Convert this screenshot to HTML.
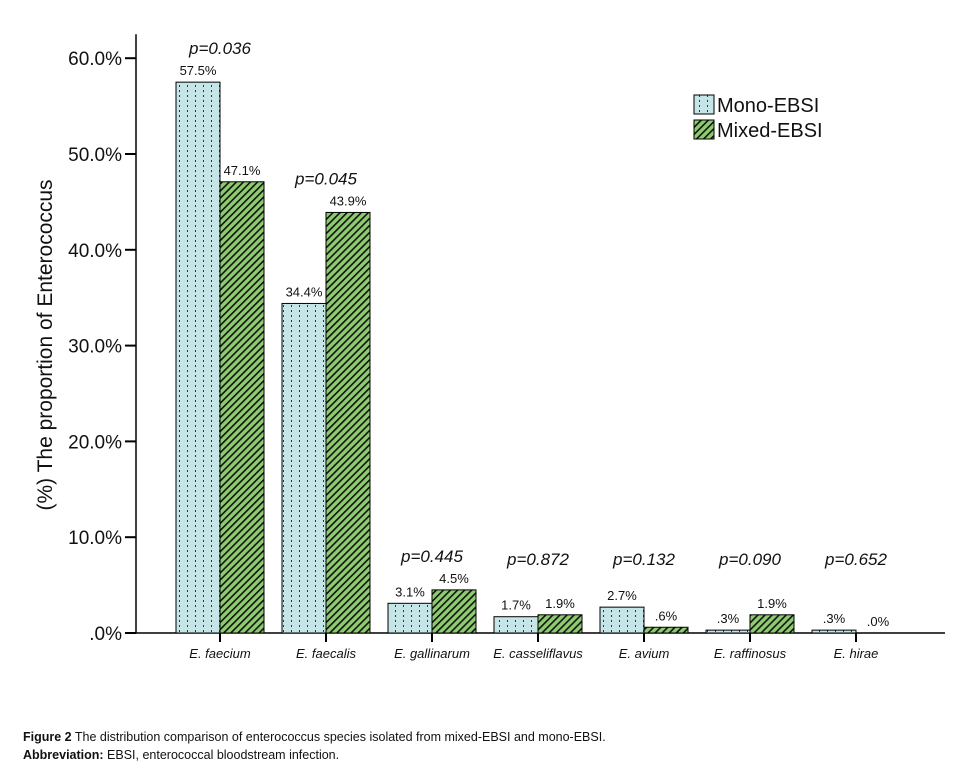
<!DOCTYPE html>
<html><head><meta charset="utf-8"><style>
body{margin:0;background:#fff;width:961px;height:784px;overflow:hidden;font-family:"Liberation Sans",sans-serif}
.cap{position:absolute;left:23px;font-size:12.5px;color:#111}
</style></head><body>
<svg id="chart" width="961" height="720" style="position:absolute;left:0;top:0" font-family="Liberation Sans, sans-serif">
<defs>
<pattern id="dots" width="8" height="5" patternUnits="userSpaceOnUse">
<rect width="8" height="5" fill="#c5e5e7"/><rect x="3" y="0" width="1" height="2" fill="#333"/>
</pattern>
<pattern id="hatch" width="5" height="5" patternUnits="userSpaceOnUse" patternTransform="rotate(45)">
<rect width="5" height="5" fill="#8dcc6e"/><rect x="0" y="0" width="1.6" height="5" fill="#111"/>
</pattern>
</defs>
<g id="g"></g>
<text transform="translate(52,345) rotate(-90)" text-anchor="middle" font-size="21" fill="#111">(%) The proportion of Enterococcus</text>
<rect x="694" y="95" width="20" height="19" fill="url(#dots)" stroke="#000"/>
<text x="717" y="112" font-size="20" fill="#111">Mono-EBSI</text>
<rect x="694" y="120" width="20" height="19" fill="url(#hatch)" stroke="#000"/>
<text x="717" y="137" font-size="20" fill="#111">Mixed-EBSI</text>
</svg>
<div class="cap" style="top:730px"><b>Figure 2</b> The distribution comparison of enterococcus species isolated from mixed-EBSI and mono-EBSI.</div>
<div class="cap" style="top:748px"><b>Abbreviation:</b> EBSI, enterococcal bloodstream infection.</div>
<script>
const categories=["E. faecium","E. faecalis","E. gallinarum","E. casseliflavus","E. avium","E. raffinosus","E. hirae"];
const mono=[57.5,34.4,3.1,1.7,2.7,0.3,0.3];
const mixed=[47.1,43.9,4.5,1.9,0.6,1.9,0.0];
const monoLabels=["57.5%","34.4%","3.1%","1.7%","2.7%",".3%",".3%"];
const mixedLabels=["47.1%","43.9%","4.5%","1.9%",".6%","1.9%",".0%"];
const pValues=["p=0.036","p=0.045","p=0.445","p=0.872","p=0.132","p=0.090","p=0.652"];
const yTicks=[0,10,20,30,40,50,60];
const yTickLabels=[".0%","10.0%","20.0%","30.0%","40.0%","50.0%","60.0%"];
const NS="http://www.w3.org/2000/svg";
const g=document.getElementById('g');
const y0=633,pxPer=9.58,ax=136;
function y(v){return y0-v*pxPer;}
function x(i){return 220+i*106;}
function mk(t,a,txt){const e=document.createElementNS(NS,t);for(const k in a)e.setAttribute(k,a[k]);if(txt!=null)e.textContent=txt;g.appendChild(e);return e;}
// axes
let e=mk('line',{x1:ax,y1:y(62.5),x2:ax,y2:y0,stroke:'#000','stroke-width':1.5});


e=mk('line',{x1:ax,y1:y0,x2:945,y2:y0,stroke:'#000','stroke-width':1.5});


yTicks.forEach((t,i)=>{
 mk('line',{x1:ax-11,y1:y(t),x2:ax,y2:y(t),stroke:'#000','stroke-width':2});
 const l=mk('text',{x:ax-14,y:y(t)+7,'text-anchor':'end','font-size':19,fill:'#111'},yTickLabels[i]);
 
 
});
categories.forEach((c,i)=>{
 const cx=x(i),w=44;
 let b=mk('rect',{x:cx-w,y:y(mono[i]),width:w,height:y0-y(mono[i]),fill:'url(#dots)',stroke:'#000','stroke-width':1});
 
 
 b=mk('rect',{x:cx,y:y(mixed[i]),width:w,height:y0-y(mixed[i]),fill:'url(#hatch)',stroke:'#000','stroke-width':1});
 
 
 let t=mk('text',{x:cx-w/2,y:y(mono[i])-7,'text-anchor':'middle','font-size':13,fill:'#111'},monoLabels[i]);
 
 
 t=mk('text',{x:cx+w/2,y:y(mixed[i])-7,'text-anchor':'middle','font-size':13,fill:'#111'},mixedLabels[i]);
 
 
 const py=Math.min(y(Math.max(mono[i],mixed[i]))-28,565);
 t=mk('text',{x:cx,y:py,'text-anchor':'middle','font-size':17,'font-style':'italic',fill:'#111'},pValues[i]);
 
 
 mk('line',{x1:cx,y1:y0,x2:cx,y2:y0+9,stroke:'#000','stroke-width':2});
 t=mk('text',{x:cx,y:y0+25,'text-anchor':'middle','font-size':13,'font-style':'italic',fill:'#111'},c);
 
 
});
</script>
</body></html>
